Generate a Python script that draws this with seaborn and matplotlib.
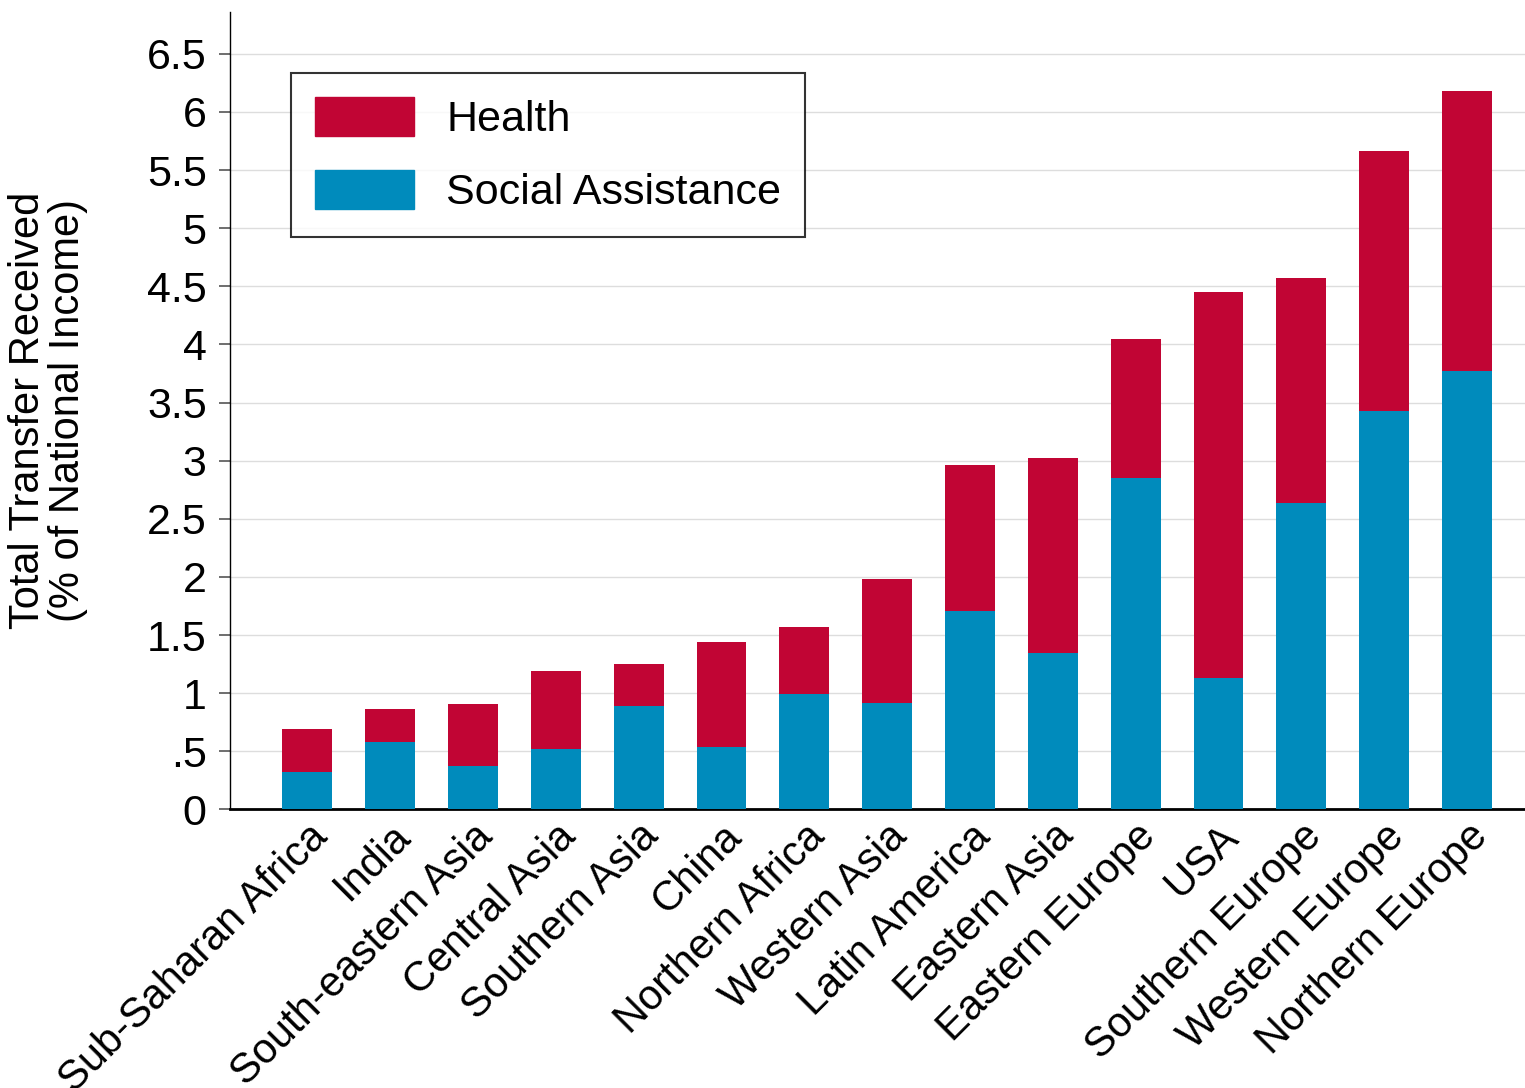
import matplotlib
matplotlib.use('Agg')
import matplotlib.pyplot as plt
import matplotlib.patches as mpatches
import seaborn as sns
import numpy as np
import pandas as pd

regions = ['Sub-Saharan Africa', 'India', 'South-eastern Asia', 'Central Asia',
           'Southern Asia', 'China', 'Northern Africa', 'Western Asia',
           'Latin America', 'Eastern Asia', 'Eastern Europe', 'USA',
           'Southern Europe', 'Western Europe', 'Northern Europe']
social = [0.32, 0.58, 0.37, 0.52, 0.89, 0.54, 0.99, 0.92,
          1.71, 1.35, 2.85, 1.13, 2.64, 3.43, 3.77]
health = [0.37, 0.28, 0.54, 0.67, 0.36, 0.90, 0.58, 1.06,
          1.25, 1.67, 1.20, 3.32, 1.93, 2.23, 2.41]
yticks = np.arange(0, 6.51, 0.5)
ytick_labels = ['0', '.5', '1', '1.5', '2', '2.5', '3', '3.5',
                '4', '4.5', '5', '5.5', '6', '6.5']

red = '#c10534'
blue = '#008bbc'

sns.set_style('white')
plt.rcParams['font.family'] = ['Liberation Sans', 'DejaVu Sans']
plt.rcParams['text.color'] = 'black'
plt.rcParams['axes.labelcolor'] = 'black'
plt.rcParams['xtick.color'] = 'black'
plt.rcParams['ytick.color'] = 'black'

df = pd.DataFrame(dict(Region=regions, Social=social, Health=health))
df['Total'] = df['Social'] + df['Health']

fig = plt.figure(figsize=(15.25, 10.88), dpi=100)
ax = fig.add_axes([0.151, 0.256, 0.849, 0.733])

sns.barplot(data=df, x='Region', y='Total', color=red, width=0.6,
            saturation=1, linewidth=0, ax=ax, zorder=2)
sns.barplot(data=df, x='Region', y='Social', color=blue, width=0.6,
            saturation=1, linewidth=0, ax=ax, zorder=3)

ax.set_ylim(0, 6.86)
ax.set_xlim(-0.93, 14.7)
ax.set_yticks(yticks)
ax.set_yticklabels(ytick_labels, fontsize=31)
ax.yaxis.grid(True, color='#dddddd', linewidth=1, zorder=0)
ax.set_axisbelow(True)
ax.tick_params(axis='y', direction='out', length=8, width=1.2, color='#555555', pad=9, left=True)
ax.tick_params(axis='x', length=0, pad=5)
ax.set_xticks(range(len(regions)))
ax.set_xticklabels(regions, rotation=45, ha='right', rotation_mode='anchor', fontsize=30)
ax.set_xlabel('')
ax.set_ylabel('Total Transfer Received\n(% of National Income)', fontsize=30, labelpad=42,
              linespacing=1.0)

for s in ['top', 'right']:
    ax.spines[s].set_visible(False)
ax.spines['left'].set_color('black')
ax.spines['left'].set_linewidth(1)
ax.spines['bottom'].set_color('black')
ax.spines['bottom'].set_linewidth(2)

handles = [mpatches.Patch(color=red, label='Health'),
           mpatches.Patch(color=blue, label='Social Assistance')]
leg = ax.legend(handles=handles, loc='upper left', bbox_to_anchor=(0.047, 0.923),
                fontsize=31, frameon=True, fancybox=False, edgecolor='black',
                handlelength=2.3, handleheight=1.0, handletextpad=0.75,
                labelspacing=0.7, borderpad=0.55, borderaxespad=0)
leg.get_frame().set_linewidth(1.5)

fig.savefig('out.png', dpi=100)
